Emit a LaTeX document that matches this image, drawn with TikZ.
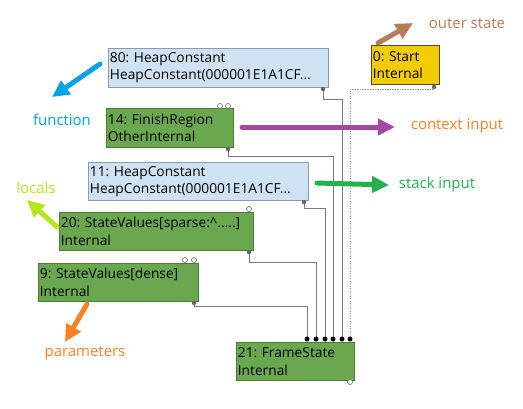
\documentclass[tikz,border=0pt]{standalone}
\usepackage{fontspec}
\setmainfont{Open Sans}
\usetikzlibrary{arrows.meta}
\definecolor{nodegreen}{HTML}{6AA84F}
\definecolor{greenedge}{HTML}{4E7A3A}
\definecolor{nodeblue}{HTML}{CFE2F3}
\definecolor{blueedge}{HTML}{8A9BAC}
\definecolor{nodeyellow}{HTML}{F0CC00}
\definecolor{yellowedge}{HTML}{4A4A3A}
\definecolor{wiregray}{HTML}{7A7A7A}
\definecolor{dotgray}{HTML}{666666}
\definecolor{pbrown}{HTML}{B97A57}
\definecolor{ppurple}{HTML}{A349A4}
\definecolor{porange}{HTML}{FF7F27}
\definecolor{pgreen}{HTML}{22B14C}
\definecolor{pblue}{HTML}{00A2E8}
\definecolor{plime}{HTML}{B5E61D}
\frenchspacing
\begin{document}
\begin{tikzpicture}[x=1bp,y=-1bp,
  nodebox/.style={anchor=north west, inner xsep=1.5bp, inner ysep=0pt, align=left,
    font=\fontsize{13.8}{17.5}\selectfont, line width=0.8bp},
  greenbox/.style={nodebox, fill=nodegreen, draw=greenedge},
  bluebox/.style={nodebox, fill=nodeblue, draw=blueedge},
  yellowbox/.style={nodebox, fill=nodeyellow, draw=yellowedge},
  outport/.style={circle, fill=dotgray, inner sep=0pt, minimum size=4.5bp},
  inport/.style={circle, fill=white, draw=dotgray, line width=0.6bp, inner sep=0pt, minimum size=5bp},
  inarrow/.style={circle, fill=black, inner sep=0pt, minimum size=5bp},
  wire/.style={draw=wiregray, line width=1bp},
  dotwire/.style={draw=wiregray!80, line width=1bp, dash pattern=on 1.2bp off 1.3bp},
  ann/.style={line width=5bp, line cap=round, -{Triangle[length=17bp,width=16bp]}},
  lbl/.style={font=\fontsize{15}{17}\selectfont, inner sep=0pt}
]
\useasboundingbox (0,0) rectangle (523,408);

% nodes
\node[bluebox, minimum width=220bp, text width=217bp, minimum height=39bp] (n80) at (108,48) {80: HeapConstant\\HeapConstant(000001E1A1CF...};
\node[yellowbox, minimum width=68bp, text width=65bp, minimum height=39bp] (n0) at (371,45) {0: Start\\Internal};
\node[greenbox, minimum width=127bp, text width=124bp, minimum height=39bp] (n14) at (106,108) {14: FinishRegion\\OtherInternal};
\node[bluebox, minimum width=220bp, text width=217bp, minimum height=38bp] (n11) at (88,162) {11: HeapConstant\\HeapConstant(000001E1A1CF...};
\node[greenbox, minimum width=194bp, text width=191bp, minimum height=38bp] (n20) at (59,212) {20: StateValues[sparse:\textasciicircum.....]\\Internal};
\node[greenbox, minimum width=160bp, text width=157bp, minimum height=38bp] (n9) at (38,263) {9: StateValues[dense]\\Internal};
\node[greenbox, minimum width=118bp, text width=115bp, minimum height=38bp] (n21) at (236,342) {21: FrameState\\Internal};

% port coordinates
\coordinate (o80) at (323,89);
\coordinate (o0) at (434,87);
\coordinate (i14a) at (220,106);
\coordinate (i14b) at (228,106);
\coordinate (o14) at (228,149);
\coordinate (o11) at (304,202);
\coordinate (i20) at (249,209);
\coordinate (o20) at (249,252);
\coordinate (i9a) at (185,260);
\coordinate (i9b) at (194,260);
\coordinate (o9) at (194,303);
\coordinate (i21a) at (307,339);
\coordinate (i21b) at (316,339);
\coordinate (i21c) at (325,339);
\coordinate (i21d) at (333,339);
\coordinate (i21e) at (342,339);
\coordinate (i21f) at (350,339);
\coordinate (o21) at (350,382);

% wires
\draw[wire] (o9) -- ++(0,3) -| (i21a);
\draw[wire] (o20) -- ++(0,10) -| (i21b);
\draw[wire] (o11) -- ++(0,6) -| (i21c);
\draw[wire] (o14) -- ++(0,7) -| (i21d);
\draw[wire] (o80) -- ++(0,10) -| (i21e);
\draw[dotwire] (o0) -- ++(0,2) -| (i21f);

% ports
\foreach \p in {o80,o0,o14,o11,o20,o9} \node[outport] at (\p) {};
\foreach \p in {i14a,i14b,i20,i9a,i9b,o21} \node[inport] at (\p) {};
\foreach \p in {i21a,i21b,i21c,i21d,i21e,i21f} \node[inarrow] at (\p) {};

% annotations
\node[lbl, text=pbrown] (louter) at (467,24) {outer state};
\node[lbl, text=porange] (lcontext) at (457,126) {context input};
\node[lbl, text=pgreen] (lstack) at (437,185) {stack input};
\node[lbl, text=pblue] (lfunc) at (62,120) {function};
\node[lbl, text=plime] (llocals) at (36,188) {locals};
\node[lbl, text=porange] (lparams) at (85,353) {parameters};

\coordinate (aouter0) at (378,43);  \coordinate (aouter1) at (413,23);
\coordinate (actx0) at (242,127);   \coordinate (actx1) at (395,127);
\coordinate (astk0) at (317,183);   \coordinate (astk1) at (389,185);
\coordinate (afun0) at (100,64);    \coordinate (afun1) at (52,97);
\coordinate (aloc0) at (57,227);    \coordinate (aloc1) at (27,200);
\coordinate (apar0) at (87,304);    \coordinate (apar1) at (65,342);

\draw[ann, pbrown] (aouter0) -- (aouter1);
\draw[ann, ppurple] (actx0) -- (actx1);
\draw[ann, pgreen] (astk0) -- (astk1);
\draw[ann, pblue] (afun0) -- (afun1);
\draw[ann, plime] (aloc0) -- (aloc1);
\draw[ann, porange] (apar0) -- (apar1);
\end{tikzpicture}
\end{document}
